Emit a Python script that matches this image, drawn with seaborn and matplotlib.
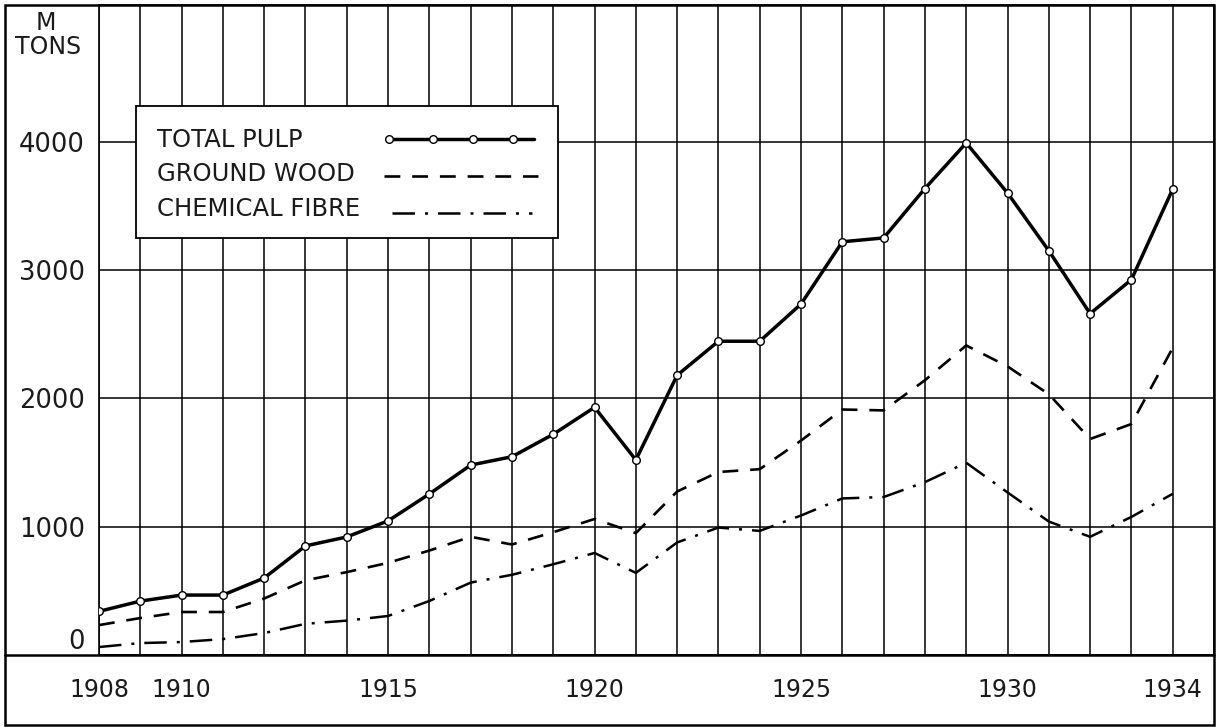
import numpy as np
import pandas as pd
import matplotlib.pyplot as plt
import seaborn as sns
from matplotlib.patches import Rectangle
from matplotlib.lines import Line2D

# ---- data (thousand tons) ----
years = list(range(1908, 1935))
total_pulp = [340, 420, 467, 467, 600, 850, 920, 1045, 1255, 1480, 1545, 1720, 1930,
              1520, 2180, 2445, 2445, 2735, 3220, 3250, 3635, 3990, 3600, 3150, 2660, 2925, 3630]
ground_wood = [233, 288, 335, 335, 440, 582, 646, 718, 814, 921, 861, 957, 1060,
               950, 1274, 1426, 1448, 1671, 1913, 1906, 2141, 2412, 2249, 2032, 1683, 1800, 2393]
chemical_fibre = [62, 93, 101, 124, 171, 243, 268, 304, 421, 564, 625, 707, 795,
                  640, 877, 993, 967, 1087, 1220, 1231, 1347, 1498, 1267, 1040, 921, 1076, 1256]

labelled_years = [1908, 1910, 1915, 1920, 1925, 1930, 1934]
y_ticks = [0, 1000, 2000, 3000, 4000]
legend_names = ["TOTAL PULP", "GROUND WOOD", "CHEMICAL FIBRE"]

df = pd.DataFrame({"year": years, "total": total_pulp,
                   "ground": ground_wood, "chemical": chemical_fibre})

sns.set_style("white")
plt.rcParams["font.family"] = ["DejaVu Sans"]
TXT = "#1a1a1a"

W, H = 1221, 727
fig = plt.figure(figsize=(W / 100, H / 100), dpi=100)

def px_box(x0, y0, x1, y1):
    return [x0 / W, 1 - y1 / H, (x1 - x0) / W, (y1 - y0) / H]

AX_L, AX_T, AX_R, AX_B = 99, 5, 1214, 655
ax = fig.add_axes(px_box(AX_L, AX_T, AX_R, AX_B))

def ax_frac(px, py):
    return (px - AX_L) / (AX_R - AX_L), (AX_B - py) / (AX_B - AX_T)

# ---- series ----
sns.lineplot(data=df, x="year", y="total", ax=ax, color="black", lw=2.5,
             marker="o", markersize=5.5, markerfacecolor="white",
             markeredgecolor="black", markeredgewidth=1.0, zorder=5)
sns.lineplot(data=df, x="year", y="ground", ax=ax, color="black", lw=1.9,
             linestyle=(0, (6, 4.5)), zorder=4)
sns.lineplot(data=df, x="year", y="chemical", ax=ax, color="black", lw=1.8,
             linestyle=(0, (9, 4, 1.2, 4)), zorder=4)

# ---- axes / grid ----
ax.set_xlim(1908, 1935)
ax.set_ylim(0, 5065)
ax.set_xticks(years, labels=[str(y) if y in labelled_years else "" for y in years])
ax.set_yticks(y_ticks, labels=[str(v) for v in y_ticks])
ax.grid(True, color="black", lw=1.1)
ax.set_axisbelow(True)
ax.tick_params(axis="both", length=0, colors=TXT)
ax.tick_params(axis="x", pad=16.5, labelsize=17)
ax.tick_params(axis="y", pad=10, labelsize=18.5)
ax.get_yticklabels()[0].set_va("bottom")
ax.set_xlabel("")
ax.set_ylabel("")
for s in ax.spines.values():
    s.set_color("black")
    s.set_linewidth(1.2)

# ---- outer frame and band line ----
fig.patches.append(Rectangle((5 / W, 1 - 725 / H), 1209 / W, 720 / H,
                             transform=fig.transFigure, fill=False,
                             edgecolor="black", lw=1.8))
fig.lines.append(Line2D([5 / W, 1214 / W], [1 - 655 / H, 1 - 655 / H],
                        transform=fig.transFigure, color="black", lw=1.8))

fig.text(46 / W, 1 - 23 / H, "M", ha="center", va="center", fontsize=17, color=TXT)
fig.text(48 / W, 1 - 47 / H, "TONS", ha="center", va="center", fontsize=17, color=TXT)

# ---- legend box drawn by hand (text left, sample right) ----
bx0, by0 = ax_frac(136, 238)
bx1, by1 = ax_frac(558, 106)
ax.add_patch(Rectangle((bx0, by0), bx1 - bx0, by1 - by0, transform=ax.transAxes,
                       facecolor="white", edgecolor="black", lw=1.3, zorder=8))
rows_y = [140, 174, 209]
for name, py in zip(legend_names, rows_y):
    tx, ty = ax_frac(157, py)
    ax.text(tx, ty, name, transform=ax.transAxes, ha="left", va="center",
            fontsize=17.5, color=TXT, zorder=9)

x_a, y_a = ax_frac(388, 139)
x_b, _ = ax_frac(534, 139)
ax.plot([x_a, x_b], [y_a, y_a], transform=ax.transAxes, color="black", lw=2.5, zorder=9)
mk = [ax_frac(px, 139)[0] for px in (389, 433, 473, 513)]
ax.plot(mk, [y_a] * len(mk), transform=ax.transAxes, ls="none", marker="o",
        markersize=5.5, markerfacecolor="white", markeredgecolor="black",
        markeredgewidth=1.0, zorder=10)
x_a, y_a = ax_frac(384, 176)
x_b, _ = ax_frac(538, 176)
ax.plot([x_a, x_b], [y_a, y_a], transform=ax.transAxes, color="black", lw=1.9,
        linestyle=(0, (6, 4.5)), zorder=9)
x_a, y_a = ax_frac(392, 213)
x_b, _ = ax_frac(532, 213)
ax.plot([x_a, x_b], [y_a, y_a], transform=ax.transAxes, color="black", lw=1.8,
        linestyle=(0, (9, 4, 1.2, 4)), zorder=9)

fig.savefig("out.png", dpi=100)
